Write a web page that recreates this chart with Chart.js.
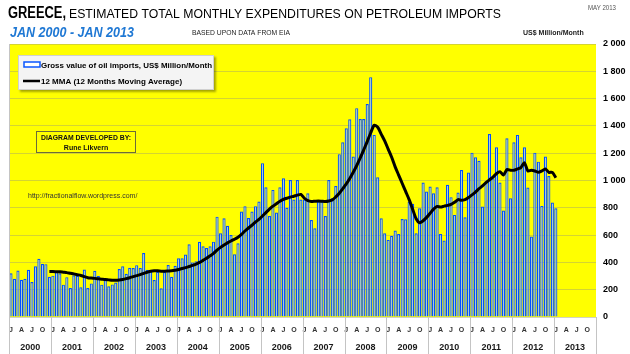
<!DOCTYPE html>
<html>
<head>
<meta charset="utf-8">
<script src="https://cdn.jsdelivr.net/npm/chart.js@4.4.1/dist/chart.umd.min.js"></script>
<style>
  html, body { margin: 0; padding: 0; background: #fff; }
  #wrap { width: 630px; height: 354px; }
</style>
</head>
<body>
<div id="wrap"><canvas id="chart" width="630" height="354"></canvas></div>
<script>
// years on the axis (data runs Jan 2000 - Jan 2013)
const years = [2000, 2001, 2002, 2003, 2004, 2005, 2006, 2007, 2008, 2009, 2010, 2011, 2012, 2013];
const monthTicks = { 0: 'J', 3: 'A', 6: 'J', 9: 'O' };
const yTicks = [0, 200, 400, 600, 800, 1000, 1200, 1400, 1600, 1800, 2000];

// Gross value of oil imports, US$ Million/Month
const imports = [
  320, 280, 340, 272, 280, 346, 256, 372, 427, 388, 387, 295,     // 2000
  303, 336, 321, 237, 292, 212, 305, 302, 218, 348, 212, 246,     // 2001
  338, 300, 237, 270, 225, 239, 253, 352, 372, 316, 361, 359,     // 2002
  380, 359, 468, 346, 337, 271, 332, 210, 330, 381, 295, 376,     // 2003
  430, 430, 458, 533, 400, 409, 551, 518, 506, 518, 552, 735,     // 2004
  613, 723, 668, 600, 460, 540, 772, 812, 725, 772, 812, 846,     // 2005
  1127, 950, 740, 931, 765, 950, 1016, 800, 1003, 860, 1003, 860, // 2006
  860, 906, 710, 650, 845, 845, 740, 1003, 870, 960, 1193, 1280,  // 2007
  1383, 1449, 1175, 1530, 1450, 1450, 1560, 1757, 1334, 1023, 723, 613, // 2008
  565, 594, 633, 608, 718, 716, 845, 830, 613, 797, 985, 919,     // 2009
  956, 907, 951, 608, 560, 968, 878, 748, 912, 1077, 731, 1058,   // 2010
  1204, 1170, 1145, 809, 992, 1341, 1016, 1243, 985, 780, 1310, 870, // 2011
  1280, 1334, 1170, 1243, 948, 589, 1204, 1138, 814, 1175, 1033, 838, // 2012
  797                                                              // 2013
];

// 12 MMA (12 Months Moving Average), starts Dec 2000
const mma = [
  null, null, null, null, null, null, null, null, null, null, null,
  333,
  333, 332, 331, 328, 325, 320, 316, 310, 304, 296, 288, 285,
  283, 280, 277, 274, 272, 270, 269, 271, 275, 281, 288, 296,
  303, 310, 320, 328, 335, 338, 338, 336, 336, 337, 338, 342,
  348, 355, 362, 370, 378, 388, 400, 415, 430, 448, 466, 490,
  510, 527, 543, 557, 570, 585, 605, 630, 652, 672, 695, 715,
  740, 765, 790, 812, 830, 848, 862, 870, 878, 885, 893, 898,
  870, 852, 846, 848, 850, 848, 846, 850, 858, 880, 906, 940,
  975, 1015, 1060, 1110, 1165, 1225, 1285, 1350, 1405, 1390, 1340, 1290,
  1230, 1170, 1100, 1040, 980, 920, 860, 790, 720, 690, 705, 730,
  760, 790, 810, 805, 812, 818, 825, 840, 860, 855, 860, 875,
  895, 915, 940, 960, 985, 1005, 1025, 1050, 1065, 1040, 1080, 1075,
  1075, 1085, 1095, 1130, 1070, 1075, 1070, 1060, 1070, 1085, 1060, 1060,
  1020
];

const labels = [];
years.forEach(y => { for (let m = 1; m <= 12; m++) labels.push(y + '-' + String(m).padStart(2, '0')); });

const FONT = '"Liberation Sans", Arial, sans-serif';
const fmt = v => v >= 1000 ? Math.floor(v / 1000) + ' ' + String(v % 1000).padStart(3, '0') : String(v);

const decor = {
  id: 'decor',
  beforeDraw(chart) {
    const { ctx, chartArea: a } = chart;
    ctx.save();
    ctx.fillStyle = '#ffff00';
    ctx.fillRect(a.left, a.top, a.right - a.left, a.bottom - a.top);
    ctx.restore();
  },
  afterDraw(chart) {
    const { ctx, chartArea: a } = chart;
    const step = (a.right - a.left) / labels.length;
    ctx.save();

    // year separators under the plot + left border
    ctx.strokeStyle = '#c4c4c4';
    ctx.lineWidth = 1;
    for (let k = 0; k <= years.length; k++) {
      const px = Math.round(a.left + k * 12 * step) + 0.5;
      ctx.beginPath();
      ctx.moveTo(px, k === 0 ? a.top : a.bottom);
      ctx.lineTo(px, 354);
      ctx.stroke();
    }

    // year labels
    ctx.fillStyle = '#1a1a1a';
    ctx.font = 'bold 9px ' + FONT;
    ctx.textAlign = 'center';
    ctx.textBaseline = 'alphabetic';
    years.forEach((yr, k) => ctx.fillText(String(yr), a.left + (k * 12 + 6) * step, 350));

    // titles
    ctx.textAlign = 'left';
    ctx.fillStyle = '#000';
    ctx.font = 'bold 16px ' + FONT;
    ctx.fillText('GREECE,', 8, 18, 58);
    ctx.font = '13px ' + FONT;
    ctx.fillText('ESTIMATED TOTAL MONTHLY EXPENDITURES ON PETROLEUM IMPORTS', 69, 18, 432);

    ctx.fillStyle = '#1f78d4';
    ctx.font = 'italic bold 14px ' + FONT;
    ctx.fillText('JAN 2000 - JAN 2013', 10, 37, 124);

    ctx.fillStyle = '#222';
    ctx.font = '7px ' + FONT;
    ctx.fillText('BASED UPON DATA FROM EIA', 192, 35, 98);
    ctx.font = 'bold 7px ' + FONT;
    ctx.fillText('US$ Million/Month', 523, 35, 66);
    ctx.fillStyle = '#555';
    ctx.font = '7px ' + FONT;
    ctx.fillText('MAY 2013', 588, 10, 28);

    // legend box
    ctx.shadowColor = 'rgba(0,0,0,0.35)';
    ctx.shadowOffsetX = 2;
    ctx.shadowOffsetY = 2;
    ctx.shadowBlur = 2;
    ctx.fillStyle = '#f4f4f4';
    ctx.fillRect(18, 55, 196, 35);
    ctx.shadowColor = 'transparent';
    ctx.strokeStyle = '#d0d0d0';
    ctx.strokeRect(18.5, 55.5, 195, 34);
    ctx.fillStyle = '#fff';
    ctx.fillRect(24, 62, 16, 5);
    ctx.strokeStyle = '#0a56ff';
    ctx.lineWidth = 1.5;
    ctx.strokeRect(24, 62, 16, 5);
    ctx.strokeStyle = '#000';
    ctx.lineWidth = 2.5;
    ctx.beginPath();
    ctx.moveTo(23, 81);
    ctx.lineTo(40, 81);
    ctx.stroke();
    ctx.fillStyle = '#000';
    ctx.font = 'bold 8px ' + FONT;
    ctx.fillText('Gross value of oil imports, US$ Million/Month', 41, 68, 171);
    ctx.fillText('12 MMA (12 Months Moving Average)', 41, 84, 142);

    // author box
    ctx.strokeStyle = '#6b6b3a';
    ctx.lineWidth = 1;
    ctx.strokeRect(36.5, 131.5, 99, 21);
    ctx.textAlign = 'center';
    ctx.font = 'bold 7px ' + FONT;
    ctx.fillStyle = '#111';
    ctx.fillText('DIAGRAM DEVELOPED BY:', 86, 140, 90);
    ctx.fillText('Rune Likvern', 86, 150, 50);

    ctx.textAlign = 'left';
    ctx.font = '7px ' + FONT;
    ctx.fillStyle = '#333';
    ctx.fillText('http://fractionalflow.wordpress.com/', 28, 198, 133);

    ctx.restore();
  }
};

new Chart(document.getElementById('chart'), {
  type: 'bar',
  data: {
    labels: labels,
    datasets: [{
      type: 'line',
      label: '12 MMA (12 Months Moving Average)',
      data: mma,
      borderColor: '#000',
      borderWidth: 3,
      pointRadius: 0,
      tension: 0.25,
      spanGaps: false
    }, {
      type: 'bar',
      label: 'Gross value of oil imports, US$ Million/Month',
      data: imports,
      backgroundColor: '#a9ccff',
      borderColor: '#0050ff',
      borderWidth: 1.2,
      inflateAmount: 0,
      barPercentage: 0.9,
      categoryPercentage: 1.0
    }]
  },
  options: {
    responsive: false,
    animation: false,
    devicePixelRatio: 1,
    layout: { padding: { left: 8, top: 44, right: 0, bottom: 0 } },
    plugins: { legend: { display: false }, tooltip: { enabled: false } },
    scales: {
      x: {
        grid: { display: false, drawTicks: false },
        border: { display: false },
        ticks: {
          autoSkip: false,
          maxRotation: 0,
          minRotation: 0,
          padding: 9,
          color: '#333',
          font: { family: FONT, size: 7, weight: 'bold' },
          callback: (v, i) => monthTicks[i % 12] || ''
        },
        afterFit: s => { s.height = 37; }
      },
      y: {
        position: 'right',
        min: 0,
        max: 2000,
        afterBuildTicks: s => { s.ticks = yTicks.map(v => ({ value: v })); },
        grid: { color: 'rgba(160,160,110,0.45)', drawTicks: false },
        border: { display: false },
        ticks: {
          padding: 7,
          color: '#000',
          font: { family: FONT, size: 9, weight: 'bold' },
          callback: v => fmt(v)
        },
        afterFit: s => { s.width = 34; }
      }
    }
  },
  plugins: [decor]
});
</script>
</body>
</html>
